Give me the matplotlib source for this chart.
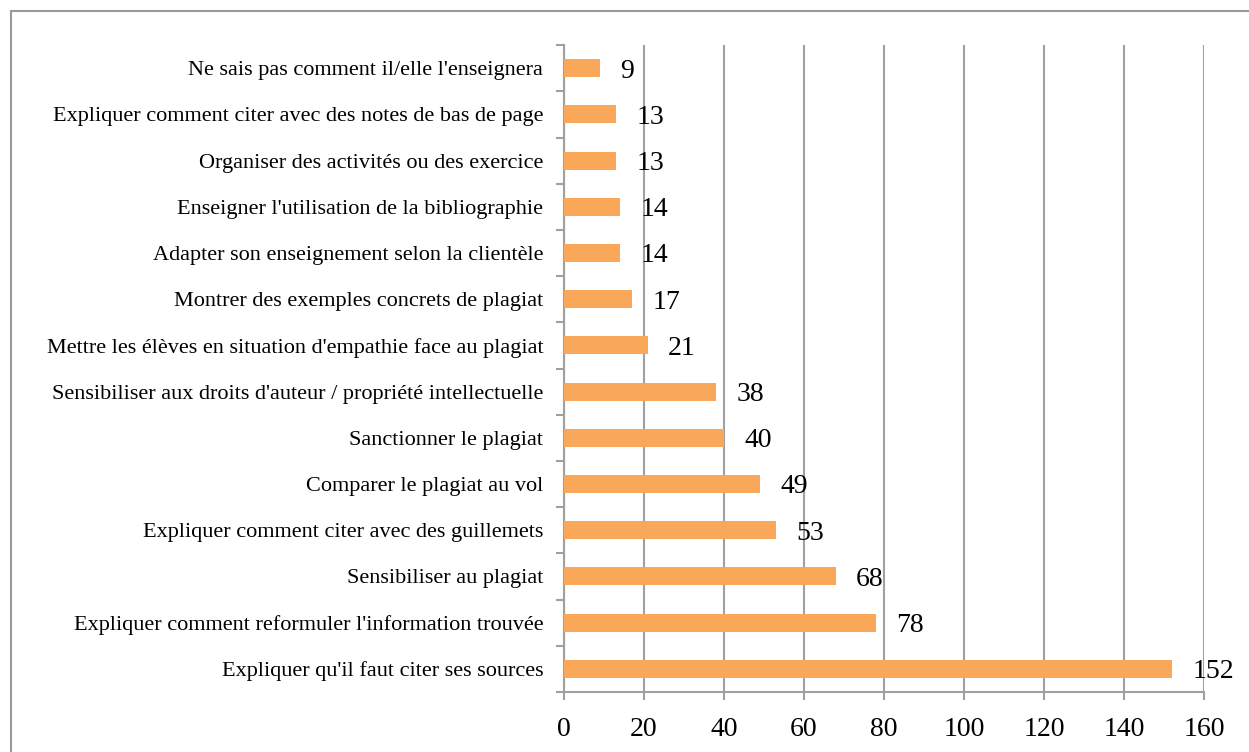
import matplotlib.pyplot as plt
from matplotlib.patches import Rectangle

# Données (de haut en bas dans le graphique)
categories = [
    "Ne sais pas comment il/elle l'enseignera",
    "Expliquer comment citer avec des notes de bas de page",
    "Organiser des activités ou des exercice",
    "Enseigner l'utilisation de la bibliographie",
    "Adapter son enseignement selon la clientèle",
    "Montrer des exemples concrets de plagiat",
    "Mettre les élèves en situation d'empathie face au plagiat",
    "Sensibiliser aux droits d'auteur / propriété intellectuelle",
    "Sanctionner le plagiat",
    "Comparer le plagiat au vol",
    "Expliquer comment citer avec des guillemets",
    "Sensibiliser au plagiat",
    "Expliquer comment reformuler l'information trouvée",
    "Expliquer qu'il faut citer ses sources",
]
valeurs = [9, 13, 13, 14, 14, 17, 21, 38, 40, 49, 53, 68, 78, 152]
x_ticks = [0, 20, 40, 60, 80, 100, 120, 140, 160]

plt.rcParams['font.family'] = ['Liberation Serif', 'DejaVu Serif']

fig = plt.figure(figsize=(12.49, 7.52), dpi=100)
ax = fig.add_axes([564/1249, 0.0798, 640/1249, 0.8602])

# cadre gris autour du graphique
fig.patches.append(Rectangle((11/1249, -0.05), 1.2, 1 - 11/752 + 0.05,
                             transform=fig.transFigure, fill=False,
                             edgecolor='#9a9a9a', linewidth=1.5))

n = len(categories)
pos = list(range(n - 1, -1, -1))
ax.barh(pos, valeurs, height=0.39, color='#F9A85A', zorder=3)

for p, v in zip(pos, valeurs):
    ax.annotate(str(v), (v, p), xytext=(14.5, -2), textcoords='offset points',
                ha='left', va='center', fontsize=20, zorder=4)

ax.set_xlim(0, 160)
ax.set_ylim(-0.5, n - 0.5)
ax.set_xticks(x_ticks)
ax.tick_params(axis='x', labelsize=20, length=6, color='#a0a0a0', width=1.5, pad=12)
ax.grid(axis='x', color='#a0a0a0', linewidth=1.5, zorder=0)

ax.set_yticks(pos)
ax.set_yticklabels(categories, fontsize=16)
ax.tick_params(axis='y', length=0, pad=15)
ax.set_yticks([i - 0.5 for i in range(n + 1)], minor=True)
ax.tick_params(axis='y', which='minor', length=6, color='#a0a0a0', width=1.5)

for s in ['top', 'right']:
    ax.spines[s].set_visible(False)
for s in ['left', 'bottom']:
    ax.spines[s].set_color('#a0a0a0')
    ax.spines[s].set_linewidth(1.5)

fig.savefig('out.png', dpi=100)
